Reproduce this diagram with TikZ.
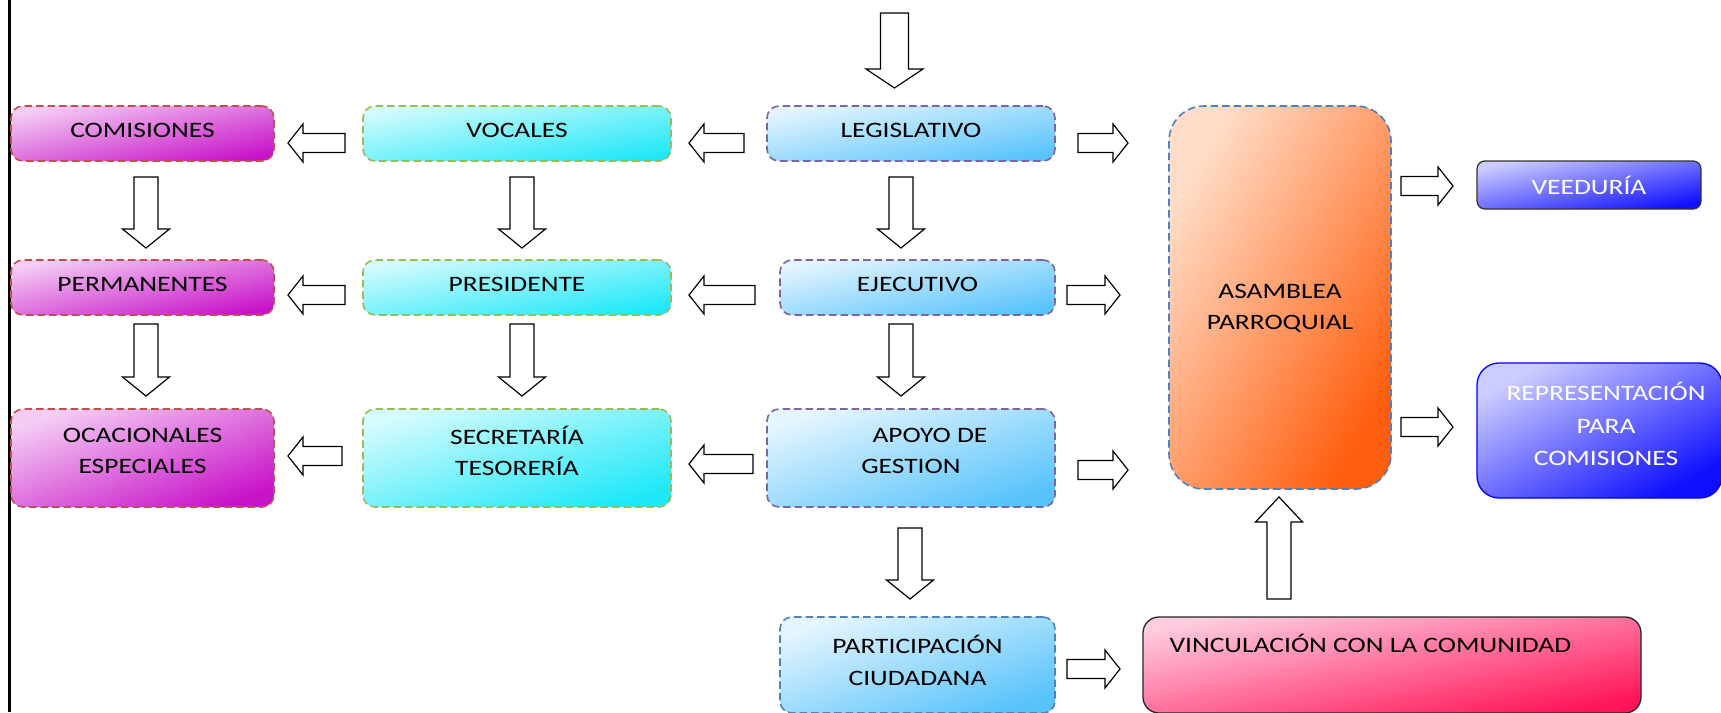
\documentclass[tikz,border=0pt]{standalone}
\usepackage{fontspec}
\setmainfont{Carlito}[FakeStretch=1.25]
\definecolor{magL}{HTML}{F4CCF4}
\definecolor{magD}{HTML}{C814C8}
\definecolor{cyaL}{HTML}{D4FBFD}
\definecolor{cyaD}{HTML}{1EE8F8}
\definecolor{bluL}{HTML}{E4F5FE}
\definecolor{bluD}{HTML}{58C3FB}
\definecolor{oraL}{HTML}{FFDDC8}
\definecolor{oraD}{HTML}{FF5E0E}
\definecolor{vioL}{HTML}{CCCCFF}
\definecolor{vioD}{HTML}{1010FF}
\definecolor{pinL}{HTML}{FFCCE0}
\definecolor{pinD}{HTML}{FF1458}
\definecolor{redB}{HTML}{C0504D}
\definecolor{greB}{HTML}{9BBB59}
\definecolor{purB}{HTML}{8064A2}
\definecolor{bluB}{HTML}{4F81BD}
\pgfdeclarehorizontalshading{magS}{100bp}{color(0bp)=(magL); color(25bp)=(magL); color(75bp)=(magD); color(100bp)=(magD)}
\pgfdeclarehorizontalshading{cyaS}{100bp}{color(0bp)=(cyaL); color(25bp)=(cyaL); color(75bp)=(cyaD); color(100bp)=(cyaD)}
\pgfdeclarehorizontalshading{bluS}{100bp}{color(0bp)=(bluL); color(25bp)=(bluL); color(75bp)=(bluD); color(100bp)=(bluD)}
\pgfdeclarehorizontalshading{oraS}{100bp}{color(0bp)=(oraL); color(25bp)=(oraL); color(75bp)=(oraD); color(100bp)=(oraD)}
\pgfdeclarehorizontalshading{vioS}{100bp}{color(0bp)=(vioL); color(25bp)=(vioL); color(75bp)=(vioD); color(100bp)=(vioD)}
\pgfdeclarehorizontalshading{pinS}{100bp}{color(0bp)=(pinL); color(25bp)=(pinL); color(75bp)=(pinD); color(100bp)=(pinD)}
\tikzset{
  txt/.style={font=\fontsize{22}{31}\selectfont, align=center},
  box/.style={txt, rounded corners=12pt, minimum height=55pt, inner sep=0pt, text depth=7pt,
    line width=1.6pt, dash pattern=on 7.5pt off 4pt},
  two/.style={minimum height=98pt, text depth=14pt},
  magbox/.style={box, draw=redB, shading=magS},
  cyabox/.style={box, draw=greB, shading=cyaS},
  blubox/.style={box, draw=purB, shading=bluS},
  asabox/.style={box, draw=bluB, rounded corners=35pt, shading=oraS},
  veebox/.style={txt, text=white, inner sep=0pt, solid, line width=1.3pt, shading=vioS},
  vinbox/.style={txt, inner sep=0pt, solid, line width=1.3pt, rounded corners=16pt,
    draw=black!85, shading=pinS},
  barrow/.style={draw=black, fill=white, line width=1.2pt, line join=miter}
}
\newcommand\blkR[3]{\draw[barrow] (#1,#3-9.5) -- (#2-15,#3-9.5) -- (#2-15,#3-19) -- (#2,#3) -- (#2-15,#3+19) -- (#2-15,#3+9.5) -- (#1,#3+9.5) -- cycle;}
\newcommand\blkL[3]{\draw[barrow] (#2,#3-9.5) -- (#1+15,#3-9.5) -- (#1+15,#3-19) -- (#1,#3) -- (#1+15,#3+19) -- (#1+15,#3+9.5) -- (#2,#3+9.5) -- cycle;}
\newcommand\blkD[6]{\draw[barrow] (#1-#4,#2) -- (#1-#4,#3-#6) -- (#1-#5,#3-#6) -- (#1,#3) -- (#1+#5,#3-#6) -- (#1+#4,#3-#6) -- (#1+#4,#2) -- cycle;}
\newcommand\blkU[6]{\draw[barrow] (#1-#4,#2) -- (#1-#4,#3+#6) -- (#1-#5,#3+#6) -- (#1,#3) -- (#1+#5,#3+#6) -- (#1+#4,#3+#6) -- (#1+#4,#2) -- cycle;}
\begin{document}
\begin{tikzpicture}[x=1pt, y=-1pt]
\useasboundingbox (0,0) rectangle (1721,712);
\fill[white] (0,0) rectangle (1721,712);
% left rule
\draw[line width=2.2pt] (9.5,0) -- (9.5,712);
% column 1
\node[magbox, minimum width=263pt, shading angle=-78.19] (com) at (142.5,133.5) {COMISIONES};
\node[magbox, minimum width=263pt, shading angle=-78.19] (per) at (142.5,287.5) {PERMANENTES};
\node[magbox, two, minimum width=263pt, shading angle=-69.56] (oca) at (142.5,458) {OCACIONALES\\ESPECIALES};
% column 2
\node[cyabox, minimum width=308pt, shading angle=-79.88] (voc) at (517,133.5) {VOCALES};
\node[cyabox, minimum width=308pt, shading angle=-79.88] (pre) at (517,287.5) {PRESIDENTE};
\node[cyabox, two, minimum width=308pt, shading angle=-72.35] (sec) at (517,458) {SECRETARÍA\\TESORERÍA};
% column 3
\node[blubox, minimum width=288pt, shading angle=-79.19] (leg) at (911,133.5) {LEGISLATIVO};
\node[blubox, minimum width=275pt, shading angle=-78.69] (eje) at (917.5,287.5) {EJECUTIVO};
\node[blubox, two, minimum width=288pt, shading angle=-71.2] (apo) at (911,458) {\hspace*{38pt}APOYO DE\\GESTION};
\node[blubox, draw=bluB, font=\fontsize{22}{32}\selectfont, minimum width=275pt, minimum height=96pt, text depth=10pt, shading angle=-70.76] (par) at (917.5,665) {PARTICIPACIÓN\\CIUDADANA};
% asamblea
\node[asabox, minimum width=222pt, minimum height=383pt, shading angle=-30.1] (asa) at (1280,297.5) {};
\node[txt] (asat) at (1280,308) {ASAMBLEA\\PARROQUIAL};
% right column
\node[veebox, draw=black!80, rounded corners=8pt, minimum width=224pt, minimum height=48pt, shading angle=-77.9] (vee) at (1589,185) {VEEDURÍA};
\node[veebox, draw=blue, rounded corners=22pt, minimum width=245pt, minimum height=135pt, shading angle=-61.1] (rep) at (1599.5,430.5) {};
\node[txt, text=white, font=\fontsize{22}{32.5}\selectfont] (rept) at (1606,424) {REPRESENTACIÓN\\PARA\\COMISIONES};
% vinculacion
\node[vinbox, minimum width=498pt, minimum height=96pt, shading angle=-79.1] (vin) at (1392,665) {};
\node[txt, anchor=base west] (vint) at (1166,652) {VINCULACIÓN CON LA COMUNIDAD};
% block arrows
\blkD{894.5}{13}{88}{14}{28.5}{19}
\blkL{288}{345}{143}
\blkL{689}{744}{143}
\blkR{1078}{1128}{143}
\blkD{146}{177}{248}{12}{23.5}{19}
\blkD{522}{177}{248}{12}{23.5}{19}
\blkD{901}{177}{248}{12}{23.5}{19}
\blkL{288}{345}{295}
\blkL{689}{755}{295}
\blkR{1067}{1120}{295}
\blkD{146}{324}{396}{12}{23.5}{19}
\blkD{522}{324}{396}{12}{23.5}{19}
\blkD{901}{324}{396}{12}{23.5}{19}
\blkL{288}{342}{456}
\blkL{689}{753}{464}
\blkR{1078}{1128}{470}
\blkD{910}{528}{599}{12}{23.5}{19}
\blkR{1067}{1120}{669}
\blkR{1401}{1453}{186}
\blkR{1401}{1453}{427}
\blkU{1279}{599}{497}{12}{23.5}{25}
\end{tikzpicture}
\end{document}
